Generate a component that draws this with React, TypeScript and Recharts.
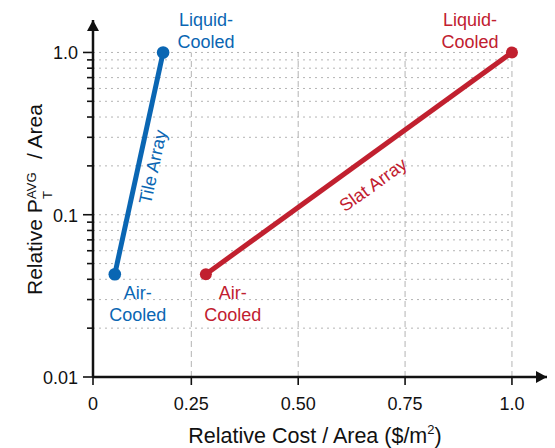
import { Line, LineChart, ReferenceDot, ReferenceLine, XAxis, YAxis } from "recharts";

const BLUE = "#0a66b3";
const RED = "#c1202f";
const GRID = "#b4b4b4";
const INK = "#111";
const FONT = '"Liberation Sans", Arial, Helvetica, sans-serif';

// relative cost / area (x) and relative P_T^AVG / area (y)
const tileCost = [0.071, 0.184];
const tilePower = [0.043, 1.0];
const slatCost = [0.284, 1.0];
const slatPower = [0.043, 1.0];

const tileData = tileCost.map((x, i) => ({ x, y: tilePower[i] }));
const slatData = slatCost.map((x, i) => ({ x, y: slatPower[i] }));

const xTicks = [0.02, 0.25, 0.5, 0.75, 1.0];
const xTickLabels = ["0", "0.25", "0.50", "0.75", "1.0"];
const xGrid = [0.25, 0.5, 0.75, 1.0];
const yMajor = [0.01, 0.1, 1];
const yMajorLabels = ["0.01", "0.1", "1.0"];
const yMinor = [0.02, 0.03, 0.04, 0.05, 0.06, 0.07, 0.08, 0.09, 0.2, 0.3, 0.4, 0.5, 0.6, 0.7, 0.8, 0.9];
const X_DOMAIN = [0.02, 1.082];
const Y_DOMAIN = [0.01, 1.585];

function YTick({ x, y, payload }: any) {
  const i = yMajor.indexOf(payload.value);
  const len = i >= 0 ? 10 : 6;
  return (
    <g>
      <line x1={x - len} x2={x} y1={y} y2={y} stroke={INK} strokeWidth={1.6} />
      {i >= 0 && (
        <text x={x - 15} y={y} dy="0.38em" textAnchor="end" fontSize={18} fill={INK} fontFamily={FONT}>
          {yMajorLabels[i]}
        </text>
      )}
    </g>
  );
}

function XTick({ x, y, payload }: any) {
  const i = xTicks.indexOf(payload.value);
  return (
    <g>
      <line x1={x} x2={x} y1={y} y2={y + 8} stroke={INK} strokeWidth={1.6} />
      <text x={x} y={y + 33} textAnchor="middle" fontSize={18} fill={INK} fontFamily={FONT}>
        {xTickLabels[i]}
      </text>
    </g>
  );
}

function XTitle() {
  return (
    <text x={315} y={443} textAnchor="middle" fontSize={21.5} fill={INK} fontFamily={FONT}>
      Relative Cost / Area ($/m
      <tspan fontSize={13} dy={-9}>2</tspan>
      <tspan dy={9}>)</tspan>
    </text>
  );
}

function YTitle() {
  return (
    <g transform="translate(42,0) rotate(-90)" fontFamily={FONT} fill={INK}>
      <text x={-295} y={0} fontSize={21}>Relative P</text>
      <text x={-199} y={-6} fontSize={13}>AVG</text>
      <text x={-199} y={10} fontSize={13}>T</text>
      <text x={-159} y={0} fontSize={21}>/ Area</text>
    </g>
  );
}

// two-line note next to a point
const note = (color: string, first: string, dx: number, dy: number) => ({ cx, cy }: any) => (
  <g fill={color} fontSize={18} fontFamily={FONT} textAnchor="middle">
    <text x={cx + dx} y={cy + dy}>{first}</text>
    <text x={cx + dx} y={cy + dy + 22}>Cooled</text>
  </g>
);

const slanted = (color: string, text: string, angle: number, dx: number, dy: number) => ({ cx, cy }: any) => (
  <text
    transform={`translate(${cx + dx},${cy + dy}) rotate(${angle})`}
    textAnchor="middle"
    dominantBaseline="central"
    fill={color}
    fontSize={18}
    fontFamily={FONT}
  >
    {text}
  </text>
);

const mid = (xs: number[], ys: number[]) => ({ x: (xs[0] + xs[1]) / 2, y: Math.sqrt(ys[0] * ys[1]) });
const tileMid = mid(tileCost, tilePower);
const slatMid = mid(slatCost, slatPower);

export default function App() {
  return (
    <div style={{ position: "absolute", left: 0, top: 0, width: 555, height: 448, background: "#fff" }}>
      <LineChart width={555} height={448} margin={{ top: 20, right: 8, left: 0, bottom: 0 }}>
        <XAxis
          type="number"
          dataKey="x"
          domain={X_DOMAIN}
          ticks={xTicks}
          interval={0}
          allowDataOverflow
          height={71}
          tickSize={0}
          tickMargin={0}
          tickLine={false}
          tick={(p: any) => <XTick {...p} />}
          axisLine={{ stroke: INK, strokeWidth: 2.5 }}
          label={<XTitle />}
        />
        <YAxis
          type="number"
          dataKey="y"
          scale="log"
          domain={Y_DOMAIN}
          ticks={[...yMajor, ...yMinor]}
          interval={0}
          allowDataOverflow
          width={93}
          tickSize={0}
          tickMargin={0}
          tickLine={false}
          tick={(p: any) => <YTick {...p} />}
          axisLine={{ stroke: INK, strokeWidth: 2.5 }}
          label={<YTitle />}
        />
        {[...yMinor, 0.1, 1].map((v) => (
          <ReferenceLine
            key={`h${v}`}
            segment={[{ x: X_DOMAIN[0], y: v }, { x: 1.0, y: v }]}
            stroke={GRID}
            strokeWidth={1}
            strokeDasharray="2 4"
          />
        ))}
        {xGrid.map((v) => (
          <ReferenceLine
            key={`v${v}`}
            segment={[{ x: v, y: 0.01 }, { x: v, y: 1 }]}
            stroke={GRID}
            strokeWidth={1}
            strokeDasharray="6 4"
          />
        ))}
        <Line
          data={tileData}
          dataKey="y"
          type="linear"
          stroke={BLUE}
          strokeWidth={5}
          dot={{ r: 6.3, fill: BLUE, stroke: BLUE, strokeWidth: 0 }}
          isAnimationActive={false}
        />
        <Line
          data={slatData}
          dataKey="y"
          type="linear"
          stroke={RED}
          strokeWidth={5}
          dot={{ r: 6, fill: RED, stroke: RED, strokeWidth: 0 }}
          isAnimationActive={false}
        />
        <ReferenceDot x={tileCost[0]} y={tilePower[0]} r={1} shape={note(BLUE, "Air-", 23, 25)} />
        <ReferenceDot x={tileCost[1]} y={tilePower[1]} r={1} shape={note(BLUE, "Liquid-", 43, -26)} />
        <ReferenceDot x={slatCost[0]} y={slatPower[0]} r={1} shape={note(RED, "Air-", 27, 25)} />
        <ReferenceDot x={slatCost[1]} y={slatPower[1]} r={1} shape={note(RED, "Liquid-", -42, -26)} />
        <ReferenceDot x={tileMid.x} y={tileMid.y} r={1} shape={slanted(BLUE, "Tile Array", -77.6, 14, 3.6)} />
        <ReferenceDot x={slatMid.x} y={slatMid.y} r={1} shape={slanted(RED, "Slat Array", -35.8, 14.3, 21.6)} />
        <ReferenceDot
          x={X_DOMAIN[1]}
          y={Y_DOMAIN[0]}
          r={1}
          shape={({ cx, cy }: any) => <polygon points={`${cx},${cy} ${cx - 11},${cy - 6} ${cx - 11},${cy + 6}`} fill={INK} />}
        />
        <ReferenceDot
          x={X_DOMAIN[0]}
          y={Y_DOMAIN[1]}
          r={1}
          shape={({ cx, cy }: any) => <polygon points={`${cx},${cy} ${cx - 6},${cy + 11} ${cx + 6},${cy + 11}`} fill={INK} />}
        />
      </LineChart>
    </div>
  );
}
